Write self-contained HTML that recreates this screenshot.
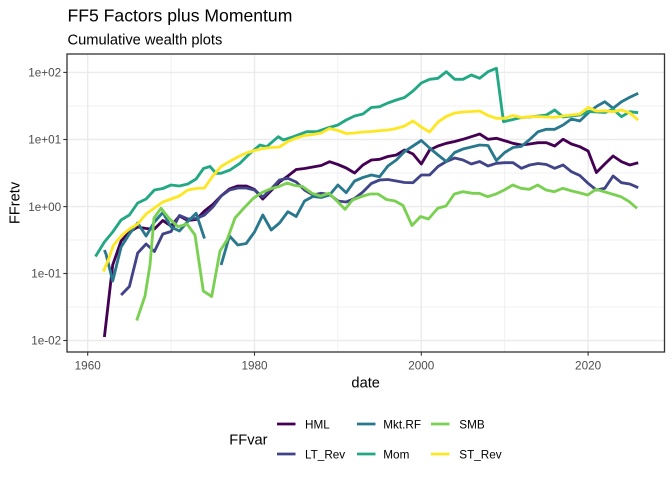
<!DOCTYPE html>
<html><head><meta charset="utf-8">
<style>
html,body{margin:0;padding:0;background:#fff;}
svg{display:block;font-family:"Liberation Sans",Arial,sans-serif;}
</style></head>
<body>
<svg width="672" height="480" viewBox="0 0 672 480" xmlns="http://www.w3.org/2000/svg">
<rect x="0" y="0" width="672" height="480" fill="#fff"/>
<text x="67.5" y="21.7" font-size="17.6" fill="#000">FF5 Factors plus Momentum</text>
<text x="67.5" y="44.5" font-size="14.67" fill="#000">Cumulative wealth plots</text>

<!-- panel -->
<rect x="67" y="54" width="597.5" height="298" fill="#fff"/>
<g stroke="#EBEBEB" stroke-width="0.7" fill="none">
<line x1="67" x2="664.5" y1="106" y2="106"/>
<line x1="67" x2="664.5" y1="173" y2="173"/>
<line x1="67" x2="664.5" y1="240" y2="240"/>
<line x1="67" x2="664.5" y1="307" y2="307"/>
<line x1="171.1" x2="171.1" y1="54" y2="352"/>
<line x1="337.9" x2="337.9" y1="54" y2="352"/>
<line x1="504.7" x2="504.7" y1="54" y2="352"/>
</g>
<g stroke="#EBEBEB" stroke-width="1.4" fill="none">
<line x1="67" x2="664.5" y1="72.4" y2="72.4"/>
<line x1="67" x2="664.5" y1="139.5" y2="139.5"/>
<line x1="67" x2="664.5" y1="206.6" y2="206.6"/>
<line x1="67" x2="664.5" y1="273.5" y2="273.5"/>
<line x1="67" x2="664.5" y1="340.5" y2="340.5"/>
<line x1="87.7" x2="87.7" y1="54" y2="352"/>
<line x1="254.5" x2="254.5" y1="54" y2="352"/>
<line x1="421.3" x2="421.3" y1="54" y2="352"/>
<line x1="588.1" x2="588.1" y1="54" y2="352"/>
</g>

<g fill="none" stroke-width="2.85" stroke-linejoin="round" stroke-linecap="butt">
<!-- HML -->
<polyline stroke="#440154" points="104.4,337 112.7,265 121.1,241 129.4,232 137.7,227 146.1,228.5 154.4,229 162.8,220.5 171.1,226 179.4,216 187.8,220.5 196.1,219.5 204.5,211 212.8,204.5 221.1,196 229.5,189 237.8,186 246.2,186 254.5,189.5 262.8,199 271.2,190.5 279.5,182 287.9,176 296.2,169.5 304.5,168.5 312.9,167 321.2,165.5 329.6,161.7 337.9,164.5 346.2,168 354.6,173 362.9,165 371.3,160 379.6,159.3 387.9,156.5 396.3,155 404.6,150 413,154 421.3,164 429.6,150 438,146 446.3,143.3 454.7,141.5 463,139.3 471.3,136.7 479.7,134 488,139.3 496.4,138.3 504.7,140.7 513,143.3 521.4,145 529.7,144 538.1,142.7 546.4,142.7 554.7,146 563.1,139.3 571.4,144 579.8,146.7 588.1,151 596.4,172.5 604.8,164 613.1,156 621.5,161.7 629.8,165 638.2,162.7"/>
<!-- LT_Rev -->
<polyline stroke="#414487" points="121.1,295 129.4,286.5 137.7,253 146.1,244 154.4,251.5 162.8,234 171.1,231.5 179.4,215.5 187.8,219 196.1,218.5 204.5,215 212.8,207 221.1,196 229.5,190 237.8,188 246.2,188 254.5,190 262.8,197 271.2,189 279.5,180 287.9,178.3 296.2,182 304.5,190 312.9,195 321.2,193.3 329.6,194.5 337.9,201 346.2,202 354.6,198.5 362.9,192 371.3,183.5 379.6,180 387.9,179.5 396.3,181 404.6,182.5 413,182.7 421.3,175 429.6,175 438,166.5 446.3,161.5 454.7,158 463,160 471.3,164 479.7,161.5 488,166 496.4,163.3 504.7,162.7 513,162.7 521.4,168.3 529.7,165 538.1,163.5 546.4,164.5 554.7,168.3 563.1,165 571.4,171.7 579.8,175.5 588.1,183.3 596.4,190 604.8,188.3 613.1,176 621.5,182.7 629.8,184 638.2,187.7"/>
<!-- Mkt.RF -->
<polyline stroke="#2A788E" points="104.4,250 106,254 112.7,281 121.1,247 129.4,234 137.7,223 146.1,236 154.4,222 162.8,212.5 171.1,227 179.4,231 187.8,221.5 196.1,213.3 204.5,238.5"/>
<polyline stroke="#2A788E" points="221.1,265 229.5,236 237.8,245 246.2,243.5 254.5,232 262.8,215 271.2,230 279.5,223 287.9,211.7 296.2,216.5 304.5,201 312.9,196.5 321.2,197.5 329.6,195 337.9,185 346.2,192.7 354.6,181 362.9,177.5 371.3,175 379.6,176.7 387.9,166 396.3,160 404.6,151.5 413,146 421.3,140.5 429.6,148 438,155 446.3,161.5 454.7,152.5 463,149 471.3,147 479.7,145 488,145.5 496.4,160.5 504.7,152.5 513,147.5 521.4,146.3 529.7,139.5 538.1,131.7 546.4,129.3 554.7,129.3 563.1,125 571.4,119 579.8,121 588.1,113 596.4,106.5 604.8,101.7 613.1,108.3 621.5,101.7 629.8,97.3 638.2,93.3"/>
<!-- Mom -->
<polyline stroke="#22A884" points="95.5,256.5 104.4,242 112.7,232 121.1,220 129.4,215 137.7,203 146.1,199 154.4,190 162.8,188.5 171.1,185 179.4,186 187.8,184 196.1,179 203.5,168.5 210,166.5 216,173.3 221,173.3 230,170 240,163.3 250,153.3 260,145 266.7,146.7 278.3,136.7 283.3,140 293.3,136.7 306.7,131.7 316.7,131.7 326.7,128.3 337.9,125 346.2,120 354.6,116 362.9,114 371.3,107.5 379.6,106.7 387.9,103 396.3,100 404.6,97.5 413,91 421.3,83 429.6,79.3 438,78.3 446.3,71.7 454.7,79.3 463,79.3 471.3,75 479.7,78.3 488,71.7 496.4,68.3 503.5,121.7 513,119.5 521.4,117.5 529.7,117 538.1,116 546.4,115 554.7,110 563.1,117 571.4,116 579.8,115 588.1,111.5 596.4,112 604.8,112.5 613.1,109.3 621.5,116.7 629.8,111.7 638.2,112.7"/>
<!-- SMB -->
<polyline stroke="#7AD151" points="136.7,320.5 145,296 150,265 154,218 161,208.3 169,218.3 178,226.7 187,224 195,235 203.3,291 211.7,296.5 220,251 227,240 235,218 244,208 253.3,198.3 262,192.5 270,189 279,186.5 287,183 295,185.5 302.5,186.5 312,193.3 320.5,196 329,193.3 337.5,201.5 345,209.3 352.5,200 361.5,196.5 370,194 378,194 386.5,199.5 395,201 403,205.5 412,225.5 420.5,216.5 428.5,219 437.7,208.3 446,206 454.3,194 462.7,191.7 472.7,193.3 479.3,193.3 487.7,196.7 496,194 504.3,190 512.7,185 521,188.3 529.3,189.3 537.7,185 546,190 554.3,191.7 562.7,188.3 571,190.7 579.3,192.7 587.7,195 596,189.3 604.3,191.7 612,194 621,196.7 629.3,201.7 637,208.3"/>
<!-- ST_Rev -->
<polyline stroke="#FDE725" points="103.3,271.5 108.3,260 113.3,245.5 121.1,236 129.4,229 137.7,224 146.1,214 154.4,208 162.8,202 171.1,199 179.4,196 187.8,190 196.1,188.5 204.5,188 212.8,176 221.1,166.5 229.5,161.5 237.8,157 246.2,153 254.5,150.5 262.8,148.5 271.2,147.5 279.5,147 287.9,141.5 296.2,138 304.5,135.5 312.9,134.5 321.2,133 329.6,128.5 337.9,130.5 346.2,133.5 354.6,133 362.9,132 371.3,131.5 379.6,130.7 387.9,130 396.3,128.5 404.6,126 413,121 421.3,127 429.6,132 438,122 446.3,116.5 454.7,113 463,112 471.3,111.5 479.7,111 488,115.5 496.4,118.3 504.7,118.3 513,115.5 521.4,117.5 529.7,116.7 538.1,116.7 546.4,117 554.7,117.3 563.1,116 571.4,115 579.8,114 588.1,107.5 596.4,111 604.8,110.8 613.1,111.7 621.5,110 629.8,113 638.2,120"/>
</g>

<rect x="67" y="54" width="597.5" height="298" fill="none" stroke="#333333" stroke-width="1.3"/>

<!-- ticks -->
<g stroke="#333333" stroke-width="1.1">
<line x1="63.3" x2="67" y1="72.4" y2="72.4"/>
<line x1="63.3" x2="67" y1="139.5" y2="139.5"/>
<line x1="63.3" x2="67" y1="206.6" y2="206.6"/>
<line x1="63.3" x2="67" y1="273.5" y2="273.5"/>
<line x1="63.3" x2="67" y1="340.5" y2="340.5"/>
<line x1="87.7" x2="87.7" y1="352" y2="355.7"/>
<line x1="254.5" x2="254.5" y1="352" y2="355.7"/>
<line x1="421.3" x2="421.3" y1="352" y2="355.7"/>
<line x1="588.1" x2="588.1" y1="352" y2="355.7"/>
</g>
<g font-size="11.73" fill="#4D4D4D" text-anchor="end">
<text x="61.2" y="76.6">1e+02</text>
<text x="61.2" y="143.7">1e+01</text>
<text x="61.2" y="210.8">1e+00</text>
<text x="61.2" y="277.7">1e-01</text>
<text x="61.2" y="344.7">1e-02</text>
</g>
<g font-size="11.73" fill="#4D4D4D" text-anchor="middle">
<text x="87.7" y="369.5">1960</text>
<text x="254.5" y="369.5">1980</text>
<text x="421.3" y="369.5">2000</text>
<text x="588.1" y="369.5">2020</text>
</g>
<text x="365.7" y="387.5" font-size="14.67" fill="#000" text-anchor="middle">date</text>
<text transform="translate(19.5,203) rotate(-90)" font-size="14.67" fill="#000" text-anchor="middle">FFretv</text>

<!-- legend -->
<text x="229.3" y="444.5" font-size="14.67" fill="#000">FFvar</text>
<g stroke-width="2.85">
<line x1="277" x2="295.5" y1="424" y2="424" stroke="#440154"/>
<line x1="277" x2="295.5" y1="454" y2="454" stroke="#414487"/>
<line x1="357" x2="375.5" y1="424" y2="424" stroke="#2A788E"/>
<line x1="357" x2="375.5" y1="454" y2="454" stroke="#22A884"/>
<line x1="431" x2="449.5" y1="424" y2="424" stroke="#7AD151"/>
<line x1="431" x2="449.5" y1="454" y2="454" stroke="#FDE725"/>
</g>
<g font-size="11.73" fill="#000">
<text x="305" y="428.3">HML</text>
<text x="305" y="458.3">LT_Rev</text>
<text x="383.3" y="428.3">Mkt.RF</text>
<text x="383.3" y="458.3">Mom</text>
<text x="459.3" y="428.3">SMB</text>
<text x="459.3" y="458.3">ST_Rev</text>
</g>
</svg>
</body></html>
